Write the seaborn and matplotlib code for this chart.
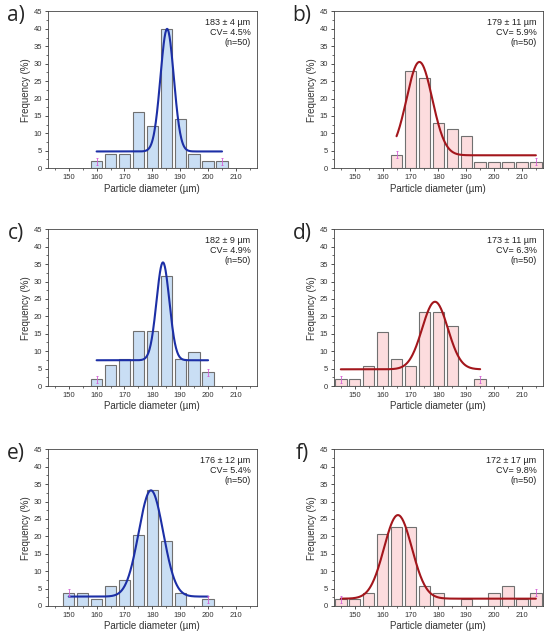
import numpy as np
import pandas as pd
import matplotlib
matplotlib.use("Agg")
import matplotlib.pyplot as plt
from matplotlib.ticker import MultipleLocator
import seaborn as sns

sns.set_style("ticks")
plt.rcParams['font.family'] = ['Liberation Sans', 'DejaVu Sans']

# bin centres (um) and frequencies (%) per panel
x_a = [160, 165, 170, 175, 180, 185, 190, 195, 200, 205]
f_a = [2, 4, 4, 16, 12, 40, 14, 4, 2, 2]
x_b = [165, 170, 175, 180, 185, 190, 195, 200, 205, 210, 215]
f_b = [3.8, 27.8, 26, 13, 11.2, 9.3, 1.9, 1.9, 1.9, 1.9, 1.9]
x_c = [160, 165, 170, 175, 180, 185, 190, 195, 200]
f_c = [2, 6, 7.8, 15.8, 15.8, 31.5, 7.8, 9.8, 4]
x_d = [145, 150, 155, 160, 165, 170, 175, 180, 185, 190, 195]
f_d = [2, 2, 5.8, 15.4, 7.7, 5.8, 21.2, 21.2, 17.3, 0, 2]
x_e = [150, 155, 160, 165, 170, 175, 180, 185, 190, 195, 200]
f_e = [3.8, 3.8, 1.9, 5.7, 7.6, 20.4, 33.3, 18.6, 3.8, 0, 1.9]
x_f = [145, 150, 155, 160, 165, 170, 175, 180, 185, 190, 195, 200, 205, 210, 215]
f_f = [1.9, 1.9, 3.8, 20.8, 22.6, 22.6, 5.7, 3.8, 0, 1.9, 0, 3.8, 5.7, 1.9, 3.8]

# gaussian fit parameters: baseline, peak height, centre, sigma
fit_a = [4.8, 40.0, 185.3, 2.4]
fit_b = [3.7, 30.5, 173.2, 4.6]
fit_c = [7.4, 35.5, 183.8, 2.3]
fit_d = [4.8, 24.2, 178.8, 4.6]
fit_e = [2.7, 33.2, 179.5, 4.4]
fit_f = [2.1, 26.1, 165.5, 5.0]

labels = ['a)', 'b)', 'c)', 'd)', 'e)', 'f)']
stats = ['183 ± 4 µm\nCV= 4.5%\n(n=50)',
         '179 ± 11 µm\nCV= 5.9%\n(n=50)',
         '182 ± 9 µm\nCV= 4.9%\n(n=50)',
         '173 ± 11 µm\nCV= 6.3%\n(n=50)',
         '176 ± 12 µm\nCV= 5.4%\n(n=50)',
         '172 ± 17 µm\nCV= 9.8%\n(n=50)']

xs_all = [x_a, x_b, x_c, x_d, x_e, x_f]
fs_all = [f_a, f_b, f_c, f_d, f_e, f_f]
fits = [fit_a, fit_b, fit_c, fit_d, fit_e, fit_f]

blue_fill, blue_line = '#c9def4', '#1c2fa6'
red_fill, red_line = '#fcdcde', '#a3161c'

fig = plt.figure(figsize=(5.5, 6.37), dpi=100)
lefts = [0.087, 0.607]
bottoms = [0.736, 0.394, 0.0487]

for i in range(6):
    row, col = i // 2, i % 2
    ax = fig.add_axes([lefts[col], bottoms[row], 0.38, 0.246])
    fill, line = (blue_fill, blue_line) if col == 0 else (red_fill, red_line)
    x, f = xs_all[i], fs_all[i]
    df = pd.DataFrame({'d': x, 'freq': f})
    sns.histplot(data=df, x='d', weights='freq', binwidth=5,
                 binrange=(x[0] - 2.5, x[-1] + 2.5), shrink=0.82,
                 color=fill, edgecolor='#707070', linewidth=0.8, alpha=1, ax=ax)
    # fitted curve
    y0, A, xc, w = fits[i]
    xx = np.linspace(x[0], x[-1], 300)
    yy = y0 + (A - y0) * np.exp(-(xx - xc) ** 2 / (2 * w ** 2))
    sns.lineplot(x=xx, y=yy, color=line, linewidth=1.5, ax=ax)
    # error marks on the outer bars
    ax.errorbar([x[0], x[-1]], [f[0], f[-1]], yerr=1.0, fmt='none',
                ecolor='#d45fd4', elinewidth=0.6, capsize=1.0, capthick=0.6)
    ax.set_xlim(142.5, 217.5)
    ax.set_ylim(0, 45)
    ax.xaxis.set_major_locator(MultipleLocator(10))
    ax.xaxis.set_minor_locator(MultipleLocator(5))
    ax.yaxis.set_major_locator(MultipleLocator(5))
    ax.yaxis.set_minor_locator(MultipleLocator(2.5))
    ax.xaxis.set_major_formatter(plt.FuncFormatter(
        lambda v, p: '' if v < 150 or v > 210 else f'{v:.0f}'))
    ax.tick_params(labelsize=5.5, length=2.5, width=0.6, colors='#333333', pad=1.5)
    ax.tick_params(which='minor', length=1.5, width=0.5, colors='#333333')
    for s in ax.spines.values():
        s.set_linewidth(0.6)
        s.set_color('#444444')
    ax.set_xlabel('Particle diameter (µm)', fontsize=7, labelpad=2, color='#333333')
    ax.set_ylabel('Frequency (%)', fontsize=7, labelpad=2, color='#333333')
    ax.text(0.97, 0.96, stats[i], transform=ax.transAxes, ha='right', va='top',
            fontsize=6.5, color='#222222', linespacing=1.15)
    fig.text(lefts[col] - 0.058, bottoms[row] + 0.246 - 0.007, labels[i],
             fontsize=15, ha='center', va='center', family=['Open Sans', 'DejaVu Sans'])

fig.savefig('out.png', dpi=100)
